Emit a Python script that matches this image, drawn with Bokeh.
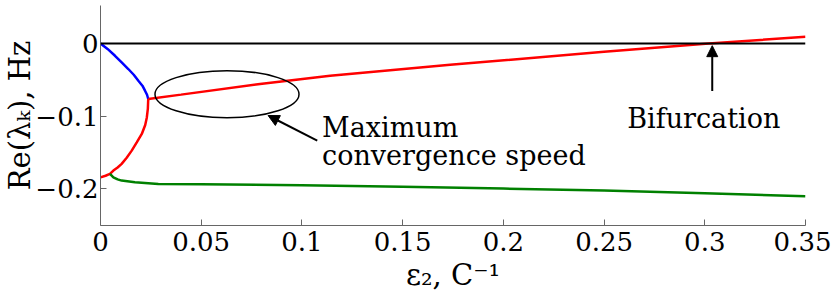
from bokeh.plotting import figure
from bokeh.models import Range1d, FixedTicker, Span, Arrow, NormalHead
from bokeh.core.properties import value
from bokeh.embed import file_html
from bokeh.resources import INLINE

# ---- data ----
# upper branch (blue), from eps=0 to the coalescence point
eps_blue = [0.0, 0.0035, 0.0072, 0.0105, 0.0138, 0.0165, 0.0188, 0.0208, 0.0221, 0.0231, 0.0237]
re_blue = [0.0, -0.0075, -0.0169, -0.026, -0.0351, -0.043, -0.0512, -0.058, -0.0649, -0.0705, -0.0763]

# red branch below the coalescence point (from eps=0 up to it)
eps_red_low = [0.0, 0.0025, 0.0047, 0.0064, 0.0085, 0.0105, 0.013, 0.0155, 0.018, 0.0205, 0.0222, 0.0230, 0.0235, 0.0237]
re_red_low = [-0.184, -0.1818, -0.1793, -0.1747, -0.1705, -0.1655, -0.157, -0.1473, -0.136, -0.1244, -0.112, -0.1016, -0.090, -0.0763]

# red branch after the coalescence point
eps_red_high = [0.0237, 0.04, 0.0792, 0.114, 0.1736, 0.25, 0.302, 0.35]
re_red_high = [-0.0763, -0.0703, -0.0557, -0.0443, -0.0292, -0.0115, 0.0, 0.0092]

# green branch
eps_green = [0.0047, 0.0064, 0.0085, 0.0105, 0.0171, 0.0287, 0.05, 0.1, 0.15, 0.2, 0.25, 0.3, 0.35]
re_green = [-0.1793, -0.184, -0.1868, -0.1885, -0.1908, -0.193, -0.1935, -0.195, -0.197, -0.1995, -0.202, -0.206, -0.21]

x_ticks = [0.0, 0.05, 0.1, 0.15, 0.2, 0.25, 0.3, 0.35]
x_tick_labels = ["0", "0.05", "0.1", "0.15", "0.2", "0.25", "0.3", "0.35"]
y_ticks = [-0.2, -0.1, 0.0]
y_tick_labels = ["\u22120.2", "\u22120.1", "0"]

# annotations
ellipse_center = (0.0628, -0.0697)
ellipse_size = (0.0715, 0.0645)
max_arrow = (0.1076, -0.1336, 0.0832, -0.099)
bif_arrow = (0.3037, -0.0652, 0.3037, -0.003)
max_text_pos = (0.110, -0.1157, -0.154)
bif_text_pos = (0.2995, -0.1034)

FONT = "DejaVu Serif"

p = figure(width=831, height=295, output_backend="svg", toolbar_location=None,
           x_range=Range1d(0, 0.35), y_range=Range1d(-0.2502, 0.0522),
           min_border_left=100, min_border_right=26, min_border_top=5, min_border_bottom=70)
p.outline_line_color = None
p.grid.visible = False
p.background_fill_color = "white"
p.border_fill_color = "white"

for ax in (p.xaxis[0], p.yaxis[0]):
    ax.axis_line_color = "#666666"
    ax.axis_line_width = 1
    ax.major_tick_line_color = "#666666"
    ax.major_tick_in = 6
    ax.major_tick_out = 0
    ax.minor_tick_line_color = None
    ax.major_label_text_font = FONT
    ax.major_label_text_font_size = "26px"
    ax.major_label_text_font_style = "normal"
    ax.major_label_text_color = "black"
    ax.axis_label_text_font = FONT
    ax.axis_label_text_font_size = "29px"
    ax.axis_label_text_font_style = "normal"
    ax.axis_label_text_color = "black"

p.xaxis.ticker = FixedTicker(ticks=x_ticks)
p.xaxis.major_label_overrides = dict(zip(x_ticks, x_tick_labels))
p.xaxis.major_label_standoff = 6
p.xaxis.axis_label = "\u03b5\u2082, C\u207b\u00b9"
p.xaxis.axis_label_standoff = 4

p.yaxis.ticker = FixedTicker(ticks=y_ticks)
p.yaxis.major_label_overrides = dict(zip(y_ticks, y_tick_labels))
p.yaxis.major_label_standoff = 2
p.yaxis.axis_label = "Re(\u03bb\u2096), Hz"
p.yaxis.axis_label_standoff = -5

p.add_layout(Span(location=0, dimension="width", line_color="black", line_width=2))

p.line(eps_blue, re_blue, line_color="#0000ff", line_width=2.5)
p.line(eps_red_low, re_red_low, line_color="#ff0000", line_width=2.5)
p.line(eps_green, re_green, line_color="#008000", line_width=2.5)
p.line(eps_red_high, re_red_high, line_color="#ff0000", line_width=2.5)

p.ellipse(x=[ellipse_center[0]], y=[ellipse_center[1]], width=[ellipse_size[0]], height=[ellipse_size[1]],
          fill_color=None, line_color="black", line_width=1.5)

for (xs, ys, xe, ye) in (max_arrow, bif_arrow):
    p.add_layout(Arrow(end=NormalHead(size=11, fill_color="black", line_color="black", line_width=1),
                       x_start=xs, y_start=ys, x_end=xe, y_end=ye,
                       line_color="black", line_width=2))

p.text(x=[max_text_pos[0], max_text_pos[0]], y=[max_text_pos[1], max_text_pos[2]],
       text=["Maximum", "convergence speed"], text_font=value(FONT), text_font_size="27px",
       text_font_style="normal",
       text_align="left", text_baseline="alphabetic", text_color="black")
p.text(x=[bif_text_pos[0]], y=[bif_text_pos[1]], text=["Bifurcation"], text_font=value(FONT),
       text_font_size="27px", text_font_style="normal",
       text_align="center", text_baseline="alphabetic", text_color="black")

open("out.html", "w").write(file_html(p, INLINE))
